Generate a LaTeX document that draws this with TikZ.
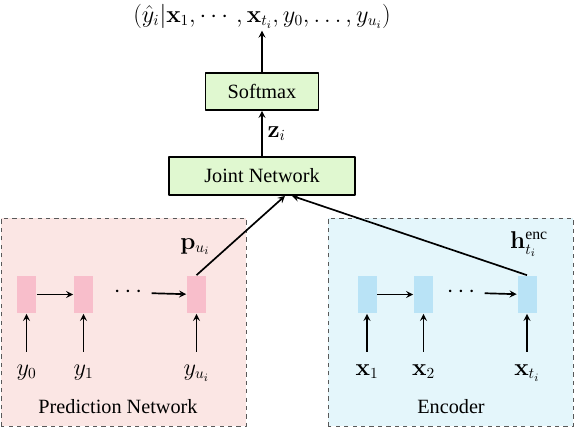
\documentclass[tikz,border=0pt]{standalone}
\usepackage{amsmath}
\usepackage[no-math]{fontspec}
\setmainfont{Liberation Serif}
\usetikzlibrary{positioning,calc}
\definecolor{predbg}{RGB}{251,230,228}
\definecolor{encbg}{RGB}{228,246,251}
\definecolor{predcell}{RGB}{248,190,203}
\definecolor{enccell}{RGB}{185,227,246}
\definecolor{layerfill}{RGB}{224,248,208}
\tikzset{
	layer/.style={draw,line width=1.2pt,fill=layerfill,inner sep=0pt},
	cell/.style={minimum width=0.475cm,minimum height=0.925cm,inner sep=0pt},
	mlabel/.style={font=\fontsize{16}{19}\selectfont},
	inlabel/.style={mlabel,inner sep=0pt,text height=16pt,text depth=4pt,below=0.95cm of #1},
	groupbox/.style={draw=gray!70!black,dashed,line width=0.6pt},
}
\begin{document}
\begin{tikzpicture}[font=\Large,line join=round,>=stealth,line width=1.2pt]
	\useasboundingbox (0,0) rectangle (14.375,10.675);
	% the two dashed groups
	\draw[groupbox,fill=predbg] (0.025,0.025) rectangle (6.15,5.225);
	\draw[groupbox,fill=encbg] (8.2,0.025) rectangle (14.325,5.225);
	\node (predname) at (2.95,0.5) {Prediction Network};
	\node (encname) at (11.275,0.5) {Encoder};
	% top part
	\node[layer,minimum width=4.65cm,minimum height=0.95cm] (joint) at (6.55,6.275) {Joint Network};
	\node[layer,minimum width=2.825cm,minimum height=0.925cm] (softmax) at (6.55,8.3875) {Softmax};
	\node[mlabel,inner sep=1pt] (out) at (6.55,10.27) {$(\hat{y}_i|\mathbf{x}_1,\cdots,\mathbf{x}_{t_i},y_0,\ldots,y_{u_i})$};
	\draw[->] (joint) -- (softmax) node[midway,right,mlabel]{$\mathbf{z}_i$};
	\draw[->] (softmax) -- (out);
	% cells
	\foreach \x/\n in {0.6625/p0,2.0875/p1,4.9125/p2}{\node[cell,fill=predcell] (\n) at (\x,3.3125) {};}
	\foreach \x/\n in {9.175/e0,10.5875/e1,13.175/e2}{\node[cell,fill=enccell] (\n) at (\x,3.3125) {};}
	\node[mlabel] (pdots) at (3.25,3.36) {$\cdots$};
	\node[mlabel] (edots) at (11.575,3.36) {$\cdots$};
	\draw[->] (p0) -- (p1);
	\draw[->] (pdots) -- (p2);
	\draw[->] (e0) -- (e1);
	\draw[->] (edots) -- (e2);
	% inputs
	\foreach \n/\t in {p0/y_0,p1/y_1,p2/y_{u_i},e0/\mathbf{x}_1,e1/\mathbf{x}_2,e2/\mathbf{x}_{t_i}}{
		\node[inlabel=\n] (\n in) {$\t$};
		\draw[->] (\n in) -- (\n);
	}
	% outputs into the joint network
	\node[mlabel] (plabel) at (4.875,4.51) {$\mathbf{p}_{u_i}$};
	\node[mlabel] (hlabel) at (13.225,4.575) {$\mathbf{h}^{\text{enc}}_{t_i}$};
	\coordinate (jp) at ($(joint.south)+(0.575,0)$);
	\coordinate (je) at ($(joint.south)+(0.75,0)$);
	\draw[->] (p2.north) -- (jp);
	\draw[->] (e2.north) -- (je);
\end{tikzpicture}
\end{document}
